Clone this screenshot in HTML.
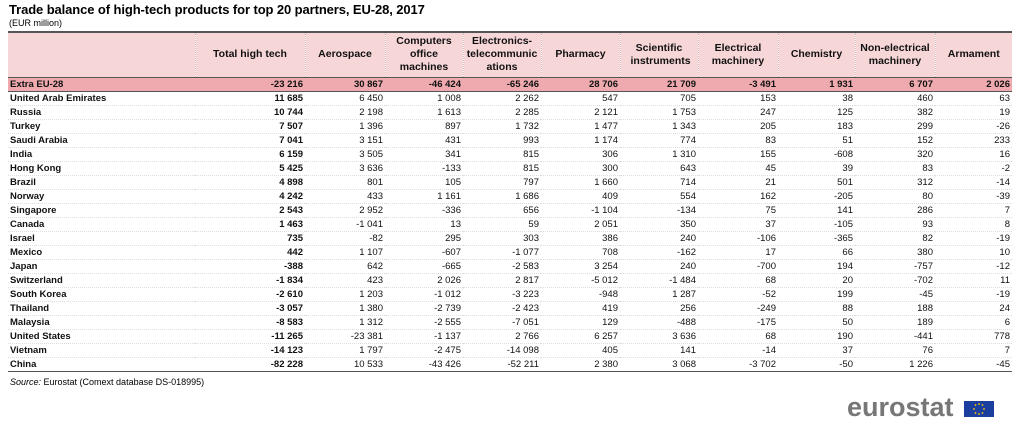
<!DOCTYPE html>
<html><head><meta charset="utf-8"><style>
body{margin:0;width:1024px;height:432px;background:#fff;font-family:"Liberation Sans",Arial,sans-serif;position:relative;overflow:hidden}
.t{position:absolute;left:9px;top:2px;font-size:13px;font-weight:bold;color:#000;letter-spacing:-0.1px}
.u{position:absolute;left:9px;top:18px;font-size:9px;color:#000}
table{position:absolute;left:8px;top:31px;width:1004px;border-collapse:collapse;table-layout:fixed;font-size:9.5px;color:#111}
td,th{padding:0 2px;white-space:nowrap;overflow:hidden;box-sizing:border-box}
thead th{background:#f7d6d8;height:45px;font-weight:bold;text-align:center;line-height:13px;border-left:1px dotted #d8b8ba;border-top:2px solid #555;border-bottom:1px solid #555;white-space:normal;font-size:10.5px;padding:0 3px}
thead th.w{padding:0 10px}
thead th:first-child{border-left:none}
tbody td{height:13.2px;line-height:13px;text-align:right;border-bottom:1px dotted #ddd}
tbody td:first-child{text-align:left;font-weight:bold}
tbody td:nth-child(2){font-weight:bold}
tr.ex td{background:#eeaaae;font-weight:bold;border-bottom:1px solid #555}
tr.last td{border-bottom:1px solid #555}
.s{position:absolute;left:10px;top:377px;font-size:9px}
.logo{position:absolute;left:847px;top:392px;font-size:27px;color:#777;font-weight:bold;letter-spacing:0px}
.flag{position:absolute;left:964px;top:401px;width:30px;height:16px;background:#1b3f9e}
</style></head><body>
<div class="t">Trade balance of high-tech products for top 20 partners, EU-28, 2017</div>
<div class="u">(EUR million)</div>
<table>
<colgroup><col style="width:187px"><col style="width:110px"><col style="width:80px"><col style="width:78px"><col style="width:78px"><col style="width:79px"><col style="width:78px"><col style="width:80px"><col style="width:77px"><col style="width:80px"><col style="width:77px"></colgroup>
<thead><tr><th></th><th>Total high tech</th><th>Aerospace</th><th class="w">Computers office machines</th><th>Electronics-telecommunic ations</th><th>Pharmacy</th><th class="w">Scientific instruments</th><th class="w">Electrical machinery</th><th>Chemistry</th><th>Non-electrical machinery</th><th>Armament</th></tr></thead>
<tbody>
<tr class="ex"><td>Extra EU-28</td><td>-23 216</td><td>30 867</td><td>-46 424</td><td>-65 246</td><td>28 706</td><td>21 709</td><td>-3 491</td><td>1 931</td><td>6 707</td><td>2 026</td></tr>
<tr><td>United Arab Emirates</td><td>11 685</td><td>6 450</td><td>1 008</td><td>2 262</td><td>547</td><td>705</td><td>153</td><td>38</td><td>460</td><td>63</td></tr>
<tr><td>Russia</td><td>10 744</td><td>2 198</td><td>1 613</td><td>2 285</td><td>2 121</td><td>1 753</td><td>247</td><td>125</td><td>382</td><td>19</td></tr>
<tr><td>Turkey</td><td>7 507</td><td>1 396</td><td>897</td><td>1 732</td><td>1 477</td><td>1 343</td><td>205</td><td>183</td><td>299</td><td>-26</td></tr>
<tr><td>Saudi Arabia</td><td>7 041</td><td>3 151</td><td>431</td><td>993</td><td>1 174</td><td>774</td><td>83</td><td>51</td><td>152</td><td>233</td></tr>
<tr><td>India</td><td>6 159</td><td>3 505</td><td>341</td><td>815</td><td>306</td><td>1 310</td><td>155</td><td>-608</td><td>320</td><td>16</td></tr>
<tr><td>Hong Kong</td><td>5 425</td><td>3 636</td><td>-133</td><td>815</td><td>300</td><td>643</td><td>45</td><td>39</td><td>83</td><td>-2</td></tr>
<tr><td>Brazil</td><td>4 898</td><td>801</td><td>105</td><td>797</td><td>1 660</td><td>714</td><td>21</td><td>501</td><td>312</td><td>-14</td></tr>
<tr><td>Norway</td><td>4 242</td><td>433</td><td>1 161</td><td>1 686</td><td>409</td><td>554</td><td>162</td><td>-205</td><td>80</td><td>-39</td></tr>
<tr><td>Singapore</td><td>2 543</td><td>2 952</td><td>-336</td><td>656</td><td>-1 104</td><td>-134</td><td>75</td><td>141</td><td>286</td><td>7</td></tr>
<tr><td>Canada</td><td>1 463</td><td>-1 041</td><td>13</td><td>59</td><td>2 051</td><td>350</td><td>37</td><td>-105</td><td>93</td><td>8</td></tr>
<tr><td>Israel</td><td>735</td><td>-82</td><td>295</td><td>303</td><td>386</td><td>240</td><td>-106</td><td>-365</td><td>82</td><td>-19</td></tr>
<tr><td>Mexico</td><td>442</td><td>1 107</td><td>-607</td><td>-1 077</td><td>708</td><td>-162</td><td>17</td><td>66</td><td>380</td><td>10</td></tr>
<tr><td>Japan</td><td>-388</td><td>642</td><td>-665</td><td>-2 583</td><td>3 254</td><td>240</td><td>-700</td><td>194</td><td>-757</td><td>-12</td></tr>
<tr><td>Switzerland</td><td>-1 834</td><td>423</td><td>2 026</td><td>2 817</td><td>-5 012</td><td>-1 484</td><td>68</td><td>20</td><td>-702</td><td>11</td></tr>
<tr><td>South Korea</td><td>-2 610</td><td>1 203</td><td>-1 012</td><td>-3 223</td><td>-948</td><td>1 287</td><td>-52</td><td>199</td><td>-45</td><td>-19</td></tr>
<tr><td>Thailand</td><td>-3 057</td><td>1 380</td><td>-2 739</td><td>-2 423</td><td>419</td><td>256</td><td>-249</td><td>88</td><td>188</td><td>24</td></tr>
<tr><td>Malaysia</td><td>-8 583</td><td>1 312</td><td>-2 555</td><td>-7 051</td><td>129</td><td>-488</td><td>-175</td><td>50</td><td>189</td><td>6</td></tr>
<tr><td>United States</td><td>-11 265</td><td>-23 381</td><td>-1 137</td><td>2 766</td><td>6 257</td><td>3 636</td><td>68</td><td>190</td><td>-441</td><td>778</td></tr>
<tr><td>Vietnam</td><td>-14 123</td><td>1 797</td><td>-2 475</td><td>-14 098</td><td>405</td><td>141</td><td>-14</td><td>37</td><td>76</td><td>7</td></tr>
<tr class="last"><td>China</td><td>-82 228</td><td>10 533</td><td>-43 426</td><td>-52 211</td><td>2 380</td><td>3 068</td><td>-3 702</td><td>-50</td><td>1 226</td><td>-45</td></tr>
</tbody></table>
<div class="s"><i>Source:</i> Eurostat (Comext database DS-018995)</div>
<div class="logo">eurostat</div>
<div class="flag"><svg width="30" height="16"><g fill="#fc0"><circle cx="15" cy="3" r="0.9"/><circle cx="18.5" cy="4" r="0.9"/><circle cx="20" cy="8" r="0.9"/><circle cx="18.5" cy="12" r="0.9"/><circle cx="15" cy="13" r="0.9"/><circle cx="11.5" cy="12" r="0.9"/><circle cx="10" cy="8" r="0.9"/><circle cx="11.5" cy="4" r="0.9"/></g></svg></div>
</body></html>
